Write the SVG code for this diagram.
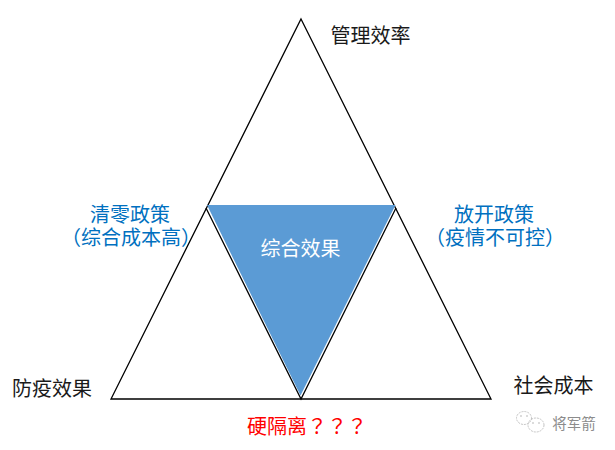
<svg xmlns="http://www.w3.org/2000/svg" width="615" height="450" viewBox="0 0 615 450">
<style>
text{font-family:"Noto Sans CJK SC","Noto Sans",sans-serif;font-size:20px;text-anchor:middle}
.k{fill:#1a1a1a}.b{fill:#0070c0}.l{fill:none;stroke:#000;stroke-width:1.3}
.w{fill:none;stroke:#c4c4c4;stroke-width:1}
.d{fill:#b0b0b0}
</style>
<rect width="615" height="450" fill="#fff"/>
<g id="connectors">
<path class="l" d="M301 19L491 399H111Z"/>
<path class="l" d="M206 208L301 399L396 208"/>
</g>
<g id="center"><path d="M207 205H395.500L300.500 395.500Z" fill="#5b9bd5"/>
<text x="300.500" y="256" fill="#fff">综合效果</text></g>
<g id="top"><text x="370.500" y="43" class="k">管理效率</text></g>
<g id="left-policy"><text x="130" y="222" class="b">清零政策</text><text x="131" y="245" class="b">（综合成本高）</text></g>
<g id="right-policy"><text x="494" y="222" class="b">放开政策</text><text x="495" y="245" class="b">（疫情不可控）</text></g>
<g id="bl"><text x="52" y="396" class="k">防疫效果</text></g>
<g id="br"><text x="553.500" y="393" class="k">社会成本</text></g>
<g id="bottom"><text x="307" y="434" fill="#f00">硬隔离<tspan style="font-family:'Noto Sans CJK JP',sans-serif">？？？</tspan></text></g>
<g id="watermark"><ellipse cx="524" cy="418" rx="7.500" ry="6.500" class="w" stroke-dasharray="2 1"/><ellipse cx="536" cy="425" rx="8" ry="7" class="w" stroke-dasharray="2 1"/>
<circle cx="521" cy="416" r=".8" class="d"/><circle cx="527" cy="416" r=".8" class="d"/><circle cx="533" cy="423" r=".8" class="d"/><circle cx="539" cy="423" r=".8" class="d"/>
<text x="574" y="429" style="font-size:14.500px;fill:#8c8c8c">将军箭</text></g>
</svg>
